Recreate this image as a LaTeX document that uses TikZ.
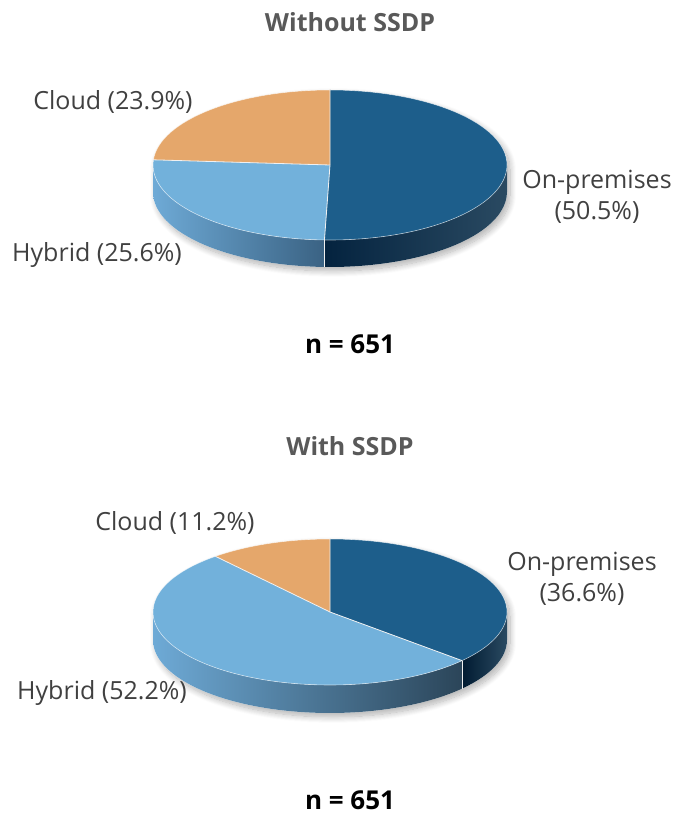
\documentclass[tikz,border=0pt]{standalone}
\usepackage{fontspec}
\setmainfont{Open Sans}
\usetikzlibrary{shadows.blur}
\definecolor{prem}{HTML}{1D5E8B}
\definecolor{hyb}{HTML}{72B1DB}
\definecolor{cld}{HTML}{E5A76B}
\definecolor{labgray}{HTML}{404040}
\definecolor{ttlgray}{HTML}{595959}
\definecolor{hybL}{HTML}{6EAAD6}
\definecolor{hybRa}{HTML}{3A6283}
\definecolor{hybRb}{HTML}{2B4559}
\definecolor{premL}{HTML}{04233F}
\definecolor{premM}{HTML}{011B31}
\definecolor{premR}{HTML}{2A4A62}
\begin{document}
\begin{tikzpicture}[x=1pt,y=1pt]
\tikzset{
  lab/.style={font=\fontsize{25}{31}\selectfont, text=labgray, align=center, inner sep=0pt},
  ttl/.style={font=\bfseries\fontsize{25}{30}\selectfont, text=ttlgray, inner sep=0pt},
  nlab/.style={font=\bfseries\fontsize{26}{30}\selectfont, text=black, inner sep=0pt},
  sepline/.style={draw=white!88!gray, line width=0.8pt},
  rim/.style={draw=white, line width=0.6pt, opacity=0.6},
  silh/.style={fill=white, blur shadow={shadow xshift=3pt, shadow yshift=-4pt, shadow opacity=30, shadow blur steps=12, shadow blur radius=6pt}},
  ea/.style={x radius=177, y radius=75},
  eb/.style={x radius=177, y radius=73}
}
\useasboundingbox (0,0) rectangle (673,815);

% ---------------- Pie 1 (Without SSDP) ----------------
\coordinate (c1) at (330,650);
\path[silh] ([shift={(c1)}]0:177 and 75) arc[ea, start angle=0, end angle=180]
  -- ++(0,-27) arc[ea, start angle=180, end angle=360] -- cycle;
% sides
\path[left color=hybL, right color=hybRa] ([shift={(c1)}]180:177 and 75)
  arc[ea, start angle=180, end angle=268.2] -- ++(0,-27)
  arc[ea, start angle=268.2, end angle=180] -- cycle;
\path[left color=premL, middle color=premM, right color=premR] ([shift={(c1)}]268.2:177 and 75)
  arc[ea, start angle=268.2, end angle=360] -- ++(0,-27)
  arc[ea, start angle=360, end angle=268.2] -- cycle;
\draw[sepline, line width=0.6pt] ([shift={(c1)}]268.2:177 and 75) -- ++(0,-27);
% top
\fill[prem] (c1) -- ([shift={(c1)}]90:177 and 75) arc[ea, start angle=90, end angle=-91.8] -- cycle;
\fill[hyb] (c1) -- ([shift={(c1)}]-91.8:177 and 75) arc[ea, start angle=-91.8, end angle=-183.96] -- cycle;
\fill[cld] (c1) -- ([shift={(c1)}]176.04:177 and 75) arc[ea, start angle=176.04, end angle=90] -- cycle;
\draw[sepline] ([shift={(c1)}]90:177 and 75) -- (c1) -- ([shift={(c1)}]-91.8:177 and 75);
\draw[sepline] (c1) -- ([shift={(c1)}]176.04:177 and 75);
\draw[rim] (c1) ellipse[ea];

\node[ttl] (t1) at (350,793) {Without SSDP};
\node[lab] (cl1) at (113,713) {Cloud (23.9\%)};
\node[lab] (op1) at (597,618) {On-premises\\(50.5\%)};
\node[lab] (hy1) at (97,560) {Hybrid (25.6\%)};
\node[nlab] (n1) at (350,471) {n = 651};

% ---------------- Pie 2 (With SSDP) ----------------
\coordinate (c2) at (330,203);
\path[silh] ([shift={(c2)}]0:177 and 73) arc[eb, start angle=0, end angle=180]
  -- ++(0,-28) arc[eb, start angle=180, end angle=360] -- cycle;
\path[left color=hybL, middle color=hybRa!70!hybL, right color=hybRb] ([shift={(c2)}]180:177 and 73)
  arc[eb, start angle=180, end angle=318.24] -- ++(0,-28)
  arc[eb, start angle=318.24, end angle=180] -- cycle;
\path[left color=premM, right color=premR] ([shift={(c2)}]318.24:177 and 73)
  arc[eb, start angle=318.24, end angle=360] -- ++(0,-28)
  arc[eb, start angle=360, end angle=318.24] -- cycle;
\draw[sepline, line width=0.6pt] ([shift={(c2)}]318.24:177 and 73) -- ++(0,-28);
\fill[prem] (c2) -- ([shift={(c2)}]90:177 and 73) arc[eb, start angle=90, end angle=-41.76] -- cycle;
\fill[hyb] (c2) -- ([shift={(c2)}]-41.76:177 and 73) arc[eb, start angle=-41.76, end angle=-229.68] -- cycle;
\fill[cld] (c2) -- ([shift={(c2)}]130.32:177 and 73) arc[eb, start angle=130.32, end angle=90] -- cycle;
\draw[sepline] ([shift={(c2)}]90:177 and 73) -- (c2) -- ([shift={(c2)}]-41.76:177 and 73);
\draw[sepline] (c2) -- ([shift={(c2)}]130.32:177 and 73);
\draw[rim] (c2) ellipse[eb];

\node[ttl] (t2) at (350,369) {With SSDP};
\node[lab] (cl2) at (175,292) {Cloud (11.2\%)};
\node[lab] (op2) at (582,236) {On-premises\\(36.6\%)};
\node[lab] (hy2) at (102,122) {Hybrid (52.2\%)};
\node[nlab] (n2) at (350,15) {n = 651};
\end{tikzpicture}
\end{document}
